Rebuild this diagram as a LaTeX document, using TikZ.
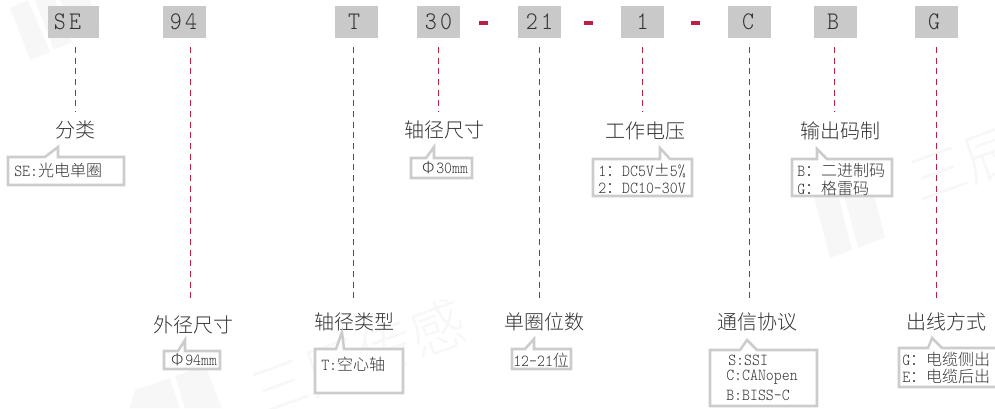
\documentclass[tikz,border=0pt]{standalone}
\usepackage{fontspec}
\usepackage{tikz}
\newfontfamily\cjk{Noto Sans CJK SC Light}
\setmonofont[FakeStretch=.9]{Latin Modern Mono Light}
\definecolor{keygray}{HTML}{C9C9C9}
\definecolor{notegray}{HTML}{CCCCCC}
\definecolor{leadred}{HTML}{BC1F44}
\definecolor{inkgray}{HTML}{333333}
\definecolor{wmgray}{HTML}{F7F7F7}
\tikzset{
	keybox/.style={fill=keygray,text=inkgray,inner sep=0pt,minimum height=24pt,font=\fontsize{19}{19}\ttfamily},
	title/.style={text=inkgray,inner sep=0pt,font=\fontsize{15}{15}\cjk},
	note/.style={text=inkgray,inner sep=0pt,anchor=west,font=\fontsize{12.6}{14}\ttfamily},
	frame/.style={draw=notegray,line width=1.9pt,fill=white,line join=miter},
	leader/.style={draw=leadred,line width=1.05pt,dash pattern=on 4.5pt off 3.5pt},
	link/.style={fill=leadred,draw=none,inner sep=0pt,minimum width=6.8pt,minimum height=3pt},
	wmtext/.style={text=wmgray,inner sep=0pt,font=\fontsize{42}{42}\cjk,rotate=20},
	wmbar/.style={fill=wmgray,draw=none}
}
\newcommand{\zh}[1]{{\fontsize{12}{14}\cjk #1}}
\newcommand{\wide}[1]{\makebox[12pt]{\zh{#1}}}
\newcommand{\callout}[8]{\draw[frame] (#1,#2) -- (#5,#2) -- (#6,#7) -- (#8,#2) -- (#3,#2) -- (#3,#4) -- (#1,#4) -- cycle;}

\begin{document}
\begin{tikzpicture}
[x=.75pt, y=-.75pt]
\useasboundingbox (0,0) rectangle (995,408);

% watermark
\node[wmtext] (wmA) at (359,357) {三辰传感};
\node[wmtext] (wmB) at (965,165) {三辰};
\fill[wmbar] (10,8) -- (28,0) -- (50,52) -- (30,60) -- cycle;
\fill[wmbar] (35,0) -- (55,0) -- (72,42) -- (54,50) -- cycle;
\fill[wmbar] (60,0) -- (90,0) -- (100,30) -- (78,38) -- cycle;
\fill[wmbar] (130,408) -- (135,390) -- (170,378) -- (180,408) -- cycle;
\fill[wmbar] (185,408) -- (175,376) -- (205,365) -- (222,408) -- cycle;
\fill[wmbar] (812,190) -- (835,182) -- (852,250) -- (830,258) -- cycle;
\fill[wmbar] (840,180) -- (868,170) -- (885,238) -- (858,248) -- cycle;

% code letters
\node[keybox,minimum width=38.25pt] (kSE) at (73.5,22) {S\hspace{2.5pt}E\hspace{9pt}\null};
\node[keybox,minimum width=32.25pt] (k94) at (184.5,22) {9\hspace{2.5pt}4\hspace{1.5pt}\null};
\node[keybox,minimum width=32.25pt] (kT) at (356.5,22) {T\hspace{3.75pt}\null};
\node[keybox,minimum width=32.25pt] (k30) at (438.5,22) {3\hspace{2.5pt}0};
\node[keybox,minimum width=32.25pt] (k21) at (539.5,22) {2\hspace{2.5pt}1};
\node[keybox,minimum width=32.25pt] (k1) at (642.5,22) {1};
\node[keybox,minimum width=32.25pt] (kC) at (749.5,22) {C\hspace{2.25pt}\null};
\node[keybox,minimum width=32.25pt] (kB) at (835.5,22) {B\hspace{3.75pt}\null};
\node[keybox,minimum width=32.25pt] (kG) at (936.5,22) {G\hspace{3.75pt}\null};

\node[link] (d1) at (483.5,23) {};
\node[link] (d2) at (588.5,23) {};
\node[link] (d3) at (695.5,23) {};

% leader lines
\foreach \name/\xpos/\yend in {a/75.2/112,b/190.2/298,c/353.7/298,d/438.7/112,e/539.2/298,f/642.7/112,g/749.2/298,h/834.2/112,i/936.2/298} {
	\coordinate (\name1) at (\xpos,47);
	\coordinate (\name2) at (\xpos,\yend);
}
\foreach \from/\to in {a1/a2,b1/b2,c1/c2,d1/d2,e1/e2,f1/f2,g1/g2,h1/h2,i1/i2}
	\draw[leader] (\from) -- (\to);

% titles
\node[title] (tSE) at (75,130) {分类};
\node[title] (t30) at (444.5,130) {轴径尺寸};
\node[title] (t1) at (645,131) {工作电压};
\node[title] (tB) at (840,131) {输出码制};
\node[title] (t94) at (193.5,325) {外径尺寸};
\node[title] (tT) at (354,322) {轴径类型};
\node[title] (t21) at (544,322) {单圈位数};
\node[title] (tC) at (757,322) {通信协议};
\node[title] (tG) at (946.5,322) {出线方式};

% call-outs
\callout{8}{157}{124}{185}{45}{58}{147}{58}
\callout{411}{158}{472}{178}{426}{434}{147}{434}
\callout{593}{159}{692}{196}{660}{660}{148}{670}
\callout{792}{159}{892}{196}{817}{817}{149}{827}
\callout{164}{351}{220}{369}{178}{185}{340}{185}
\callout{315}{349}{403}{393}{336}{342}{332}{344}
\callout{512}{349}{571}{369}{525}{534}{339}{534}
\callout{710}{350}{817}{406}{740}{747}{340}{757}
\callout{899}{348}{997}{387}{928}{932}{338}{942}

% notes
\node[note] (nSE) at (14,170) {SE:\zh{光电单圈}};
\node[note] (n30) at (420,168) {\wide{Φ}30mm};
\node[note] (n11) at (598,171) {1\zh{：}DC5V\wide{±}5\%};
\node[note] (n12) at (598,188) {2\zh{：}DC10-30V};
\node[note] (nB1) at (797,170) {B\zh{：二进制码}};
\node[note] (nB2) at (797,188) {G\zh{：格雷码}};
\node[note] (n94) at (169,360) {\wide{Φ}94mm};
\node[note] (nT) at (321,364) {T:\zh{空心轴}};
\node[note] (n21) at (513,360) {12-21\zh{位}};
\node[note] (nC1) at (728,360) {S:SSI};
\node[note] (nC2) at (726,377) {C:CANopen};
\node[note] (nC3) at (726,395) {B:BISS-C};
\node[note] (nG1) at (902,359) {G\zh{：电缆侧出}};
\node[note] (nG2) at (902,376) {E\zh{：电缆后出}};
\end{tikzpicture}
\end{document}
